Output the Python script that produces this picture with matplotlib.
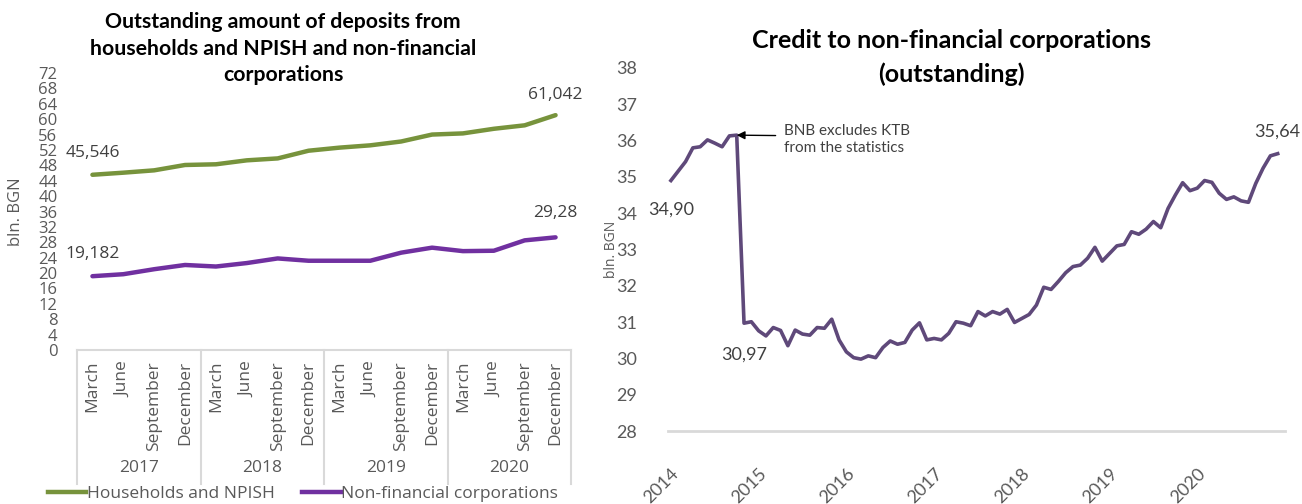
import matplotlib
matplotlib.use("Agg")
import matplotlib.pyplot as plt
from matplotlib.lines import Line2D
import matplotlib.transforms as mtransforms

plt.rcParams["font.family"] = ["Open Sans", "DejaVu Sans"]

# left chart: quarterly deposits, bln. BGN
years = ["2017", "2018", "2019", "2020"]
months = ["March", "June", "September", "December"]
households = [45.546, 46.09, 46.7, 48.09, 48.27, 49.3, 49.8, 51.8,
              52.6, 53.2, 54.2, 56.0, 56.3, 57.5, 58.4, 61.042]
nfc_deposits = [19.182, 19.7, 21.0, 22.1, 21.7, 22.6, 23.8, 23.2,
                23.2, 23.2, 25.3, 26.6, 25.7, 25.8, 28.5, 29.28]

# right chart: monthly credit to non-financial corporations, Jan 2014 - Dec 2020
credit = [34.90, 35.16, 35.42, 35.80, 35.83, 36.02, 35.93, 35.83, 36.13, 36.15,
          30.97, 31.01, 30.76, 30.62, 30.85, 30.77, 30.35, 30.78, 30.67, 30.64,
          30.85, 30.83, 31.08, 30.51, 30.18, 30.02, 29.98, 30.07, 30.02, 30.30,
          30.48, 30.39, 30.44, 30.78, 30.98, 30.51, 30.55, 30.51, 30.69, 31.01,
          30.97, 30.90, 31.29, 31.17, 31.29, 31.22, 31.35, 30.99, 31.10, 31.21,
          31.47, 31.96, 31.90, 32.12, 32.36, 32.53, 32.57, 32.76, 33.06, 32.68,
          32.89, 33.10, 33.14, 33.49, 33.42, 33.56, 33.77, 33.60, 34.13, 34.50,
          34.84, 34.62, 34.69, 34.90, 34.85, 34.55, 34.38, 34.45, 34.34, 34.30,
          34.82, 35.24, 35.58, 35.64]
credit_years = ["2014", "2015", "2016", "2017", "2018", "2019", "2020"]

GREEN = "#77933C"
PURPLE = "#7030A0"
PURPLE_DARK = "#5F497A"
GRAY = "#595959"
AXIS = "#D9D9D9"
LATO = ["Lato", "DejaVu Sans"]

W, H = 1302, 504
fig = plt.figure(figsize=(W / 100, H / 100), dpi=100)


def px_box(x0, y0, x1, y1):
    return [x0 / W, 1 - y1 / H, (x1 - x0) / W, (y1 - y0) / H]


# ---------------- left chart ----------------
ax1 = fig.add_axes(px_box(77, 73, 571, 350))
n = len(households)
xs = list(range(n))
ax1.plot(xs, households, color=GREEN, lw=3.2, solid_capstyle="round")
ax1.plot(xs, nfc_deposits, color=PURPLE, lw=3.2, solid_capstyle="round")
ax1.set_xlim(-0.5, n - 0.5)
ax1.set_ylim(0, 72)
ax1.set_yticks(range(0, 73, 4))
ax1.set_xticks([])
ax1.tick_params(axis="y", length=0, labelsize=12, labelcolor=GRAY, pad=14)
for s in ("top", "right", "left"):
    ax1.spines[s].set_visible(False)
ax1.spines["bottom"].set_color(AXIS)
ax1.spines["bottom"].set_linewidth(1.5)
ax1.set_ylabel("bln. BGN", fontsize=12, color=GRAY)
ax1.yaxis.set_label_coords(-0.108, 0.5)

lab_kw = dict(ha="center", va="bottom", fontsize=12.5, color="#404040")
ax1.annotate(f"{households[0]:.3f}".replace(".", ","), (0, households[0]),
             xytext=(0, 10), textcoords="offset points", **lab_kw)
ax1.annotate(f"{households[-1]:.3f}".replace(".", ","), (n - 1, households[-1]),
             xytext=(0, 9), textcoords="offset points", **lab_kw)
ax1.annotate(f"{nfc_deposits[0]:.3f}".replace(".", ","), (0, nfc_deposits[0]),
             xytext=(0, 10), textcoords="offset points", **lab_kw)
ax1.annotate(f"{nfc_deposits[-1]:.2f}".replace(".", ","), (n - 1, nfc_deposits[-1]),
             xytext=(0, 12), textcoords="offset points", **lab_kw)

# two-level category axis
tr = mtransforms.blended_transform_factory(ax1.transData, ax1.transAxes)
ah = 277.0
for i in range(n):
    ax1.text(i, -11 / ah, months[i % 4], transform=tr, rotation=90,
             ha="center", va="top", fontsize=12.5, color=GRAY)
for k, yr in enumerate(years):
    ax1.text(4 * k + 1.5, -118 / ah, yr, transform=tr, ha="center",
             va="center", fontsize=12.5, color=GRAY)
for b in range(len(years) + 1):
    ax1.plot([4 * b - 0.5] * 2, [0, -134 / ah], transform=tr, color=AXIS,
             lw=1.5, clip_on=False)

handles = [Line2D([], [], color=GREEN, lw=3.2), Line2D([], [], color=PURPLE, lw=3.2)]
fig.legend(handles, ["Households and NPISH", "Non-financial corporations"],
           loc="center", bbox_to_anchor=(303 / W, 1 - 494 / H), ncol=2,
           frameon=False, fontsize=12.5, handlelength=2.2, handletextpad=0.05,
           columnspacing=1.6, labelcolor=GRAY)

fig.text(283 / W, 1 - 12 / H,
         "Outstanding amount of deposits from\nhouseholds and NPISH and non-financial\ncorporations",
         ha="center", va="top", fontsize=15.3, fontweight="bold",
         family=LATO, linespacing=1.42)

# ---------------- right chart ----------------
ax2 = fig.add_axes(px_box(668, 68, 1285, 431))
mx = list(range(len(credit)))
ax2.plot(mx, credit, color=PURPLE_DARK, lw=2.6, solid_joinstyle="round")
ax2.set_xlim(-0.4, 84)
ax2.set_ylim(28, 38)
ax2.set_yticks(range(28, 39))
ax2.set_xticks(range(0, 12 * len(credit_years), 12))
ax2.set_xticklabels(credit_years, rotation=45, ha="right", rotation_mode="anchor")
ax2.tick_params(axis="both", length=0, labelsize=13, labelcolor=GRAY)
ax2.tick_params(axis="y", pad=22)
ax2.tick_params(axis="x", pad=25)
for lab in ax2.get_xticklabels() + ax2.get_yticklabels():
    lab.set_family(LATO)
for s in ("top", "right", "left"):
    ax2.spines[s].set_visible(False)
ax2.spines["bottom"].set_color(AXIS)
ax2.spines["bottom"].set_linewidth(2)
ax2.set_ylabel("bln. BGN", fontsize=10, color=GRAY)
ax2.yaxis.set_label_coords(-0.08, 0.5)

rk = dict(ha="center", fontsize=13, color="#404040", family=LATO)
ax2.annotate(f"{credit[0]:.2f}".replace(".", ","), (0, credit[0]),
             xytext=(0, -15), textcoords="offset points", va="top", **rk)
ax2.annotate(f"{credit[10]:.2f}".replace(".", ","), (10, credit[10]),
             xytext=(0, -17), textcoords="offset points", va="top", **rk)
ax2.annotate(f"{credit[-1]:.2f}".replace(".", ","), (len(credit) - 1, credit[-1]),
             xytext=(0, 10), textcoords="offset points", va="bottom", **rk)

ax2.annotate("BNB excludes KTB\nfrom the statistics", xy=(9, credit[9]),
             xytext=(34, -3), textcoords="offset points", ha="left", va="center",
             fontsize=11, color="#404040", family=LATO, linespacing=1.25,
             arrowprops=dict(arrowstyle="-|>", color="black", lw=1,
                             relpos=(0, 0.62), shrinkA=4, shrinkB=0,
                             mutation_scale=12))

fig.text(951 / W, 1 - 29 / H, "Credit to non-financial corporations\n(outstanding)",
         ha="center", va="top", fontsize=18, fontweight="bold",
         family=LATO, linespacing=1.52)

fig.savefig("out.png", dpi=100)
